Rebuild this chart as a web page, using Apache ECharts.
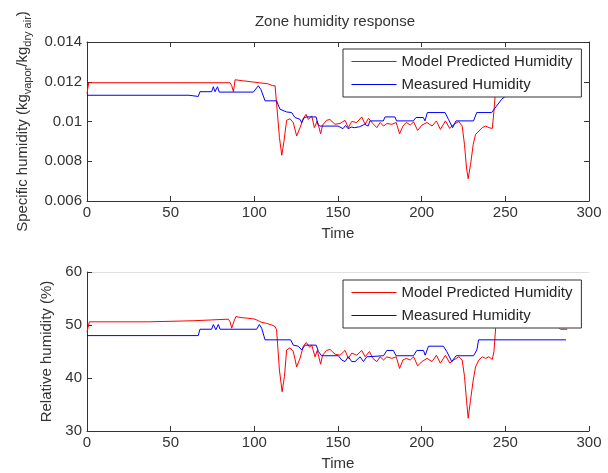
<!DOCTYPE html>
<html>
<head>
<meta charset="utf-8">
<script src="https://cdn.jsdelivr.net/npm/echarts@6/dist/echarts.min.js"></script>
<style>
  html, body { margin: 0; padding: 0; background: #fff; }
  #chart { width: 608px; height: 473px; }
</style>
</head>
<body>
<div id="chart"></div>
<script>
// top panel: specific humidity (kg vapor / kg dry air)
const specModelT = [0, 1, 85.5, 86.5, 87.5, 88.5, 93, 94, 103, 104, 108, 111, 112.4, 115, 116.4, 117.7, 119.3, 121.3, 123.3, 125.3,
  127.3, 129.3, 130.9, 132.3, 134.3, 135.9, 137.6, 139.6, 140.8, 143.2, 145.2, 148.2, 151.2, 154.2, 156.2, 158.2, 161.2, 164.2,
  166.2, 168.2, 170.8, 173.2, 175.2, 177.2, 179.2, 182.2, 184.8, 186.8, 188.8, 190.8, 193.2, 195.2, 197.6, 200.2, 203.2, 206.2,
  208.8, 211.2, 214.2, 216.8, 219.2, 222.2, 224.2, 225.6, 226.8, 227.8, 229.2, 230.8, 232.2, 234.2, 236.2, 238.2, 240.2, 242.2,
  243.2, 244.2, 245, 287];
const specModel = [0.0114, 0.01195, 0.01195, 0.0118, 0.0115, 0.0121, 0.01205, 0.01195, 0.01195, 0.0119, 0.0119, 0.0118, 0.0118,
  0.0092, 0.0083, 0.009, 0.01006, 0.01014, 0.00994, 0.00927, 0.00969, 0.01016, 0.01036, 0.0101, 0.01028, 0.00969, 0.01003,
  0.00938, 0.00982, 0.01006, 0.0101, 0.00986, 0.0099, 0.01006, 0.00969, 0.0100, 0.00995, 0.01023, 0.00986, 0.01016, 0.0099,
  0.00969, 0.00995, 0.00977, 0.0099, 0.00986, 0.00995, 0.00938, 0.00977, 0.00995, 0.00982, 0.00998, 0.00955, 0.00982, 0.00995,
  0.00977, 0.01003, 0.0096, 0.01003, 0.00965, 0.00986, 0.0100, 0.00977, 0.00884, 0.00766, 0.00712, 0.00783, 0.00884, 0.00935,
  0.00952, 0.00969, 0.00977, 0.00969, 0.00965, 0.01053, 0.0116, 0.0119, 0.0119];

const specMeasT = [0, 61, 61.5, 66.5, 67.5, 74.5, 75.5, 76.5, 78, 79, 99.4, 100.5, 102.4, 104, 106.4, 113.3, 115.3, 119.3, 122.3,
  124.3, 127.3, 128.3, 129.8, 131.3, 136.9, 138, 139.2, 150, 151, 153, 154.5, 156, 158, 160, 163, 166, 168, 169.1, 177.1, 178.1,
  184, 185, 195, 196.6, 201, 202, 203.4, 214, 216, 218.5, 220.5, 231, 232.9, 241.8, 242.8, 244.8, 247.8, 252, 258, 287];
const specMeas = [0.01132, 0.01132, 0.01126, 0.01126, 0.0115, 0.0115, 0.01175, 0.0115, 0.01175, 0.01148, 0.01148, 0.01155,
  0.0118, 0.0116, 0.01104, 0.01104, 0.01062, 0.01048, 0.01045, 0.0102, 0.01011, 0.00994, 0.0102, 0.01023, 0.01023, 0.00985,
  0.00977, 0.00977, 0.00969, 0.00964, 0.0098, 0.00964, 0.00972, 0.00969, 0.00974, 0.00986, 0.00977, 0.01003, 0.01003, 0.01023,
  0.01023, 0.01003, 0.01003, 0.0102, 0.0102, 0.01003, 0.01045, 0.01045, 0.01011, 0.00969, 0.01003, 0.01003, 0.01045, 0.01045,
  0.01053, 0.01078, 0.01112, 0.0114, 0.0117, 0.0118];

// bottom panel: relative humidity (%)
const relModelT = [0, 1.4, 36.7, 37, 63.5, 64, 84.5, 85.5, 86.5, 87.7, 89, 92, 95.4, 100.4, 102.4, 104.4, 107.4, 110.4, 112.4,
  113.3, 115, 116.6, 118, 119.3, 121.3, 123.3, 125.3, 127.3, 129.3, 131, 133, 134.3, 136.3, 137.6, 139.6, 140.8, 143.2, 145.2,
  148.2, 151.2, 154.2, 156.2, 158.2, 161.2, 164.2, 166.2, 168.8, 170.8, 173.2, 175.2, 177.2, 179.2, 182.2, 184.8, 186.8, 188.8,
  190.8, 193.2, 195.2, 197.6, 200.2, 203.2, 206.2, 208.8, 211.2, 214.2, 216.8, 219.2, 222.2, 224.2, 225.6, 226.8, 227.8, 229.2,
  230.8, 232.2, 234.2, 236.2, 238.2, 240.2, 242.2, 243.2, 244.2, 245, 260, 275, 281, 283, 287];
const relModel = [48.7, 50.6, 50.6, 50.8, 50.8, 51.1, 51.1, 50.6, 49.4, 50.6, 51.6, 51.4, 51.3, 51.1, 50.8, 50.5, 50.3, 50.0,
  49.7, 49.1, 41.5, 37.4, 40.3, 45.3, 45.7, 45.0, 42.1, 43.7, 46.0, 46.7, 45.8, 46.2, 44.0, 45.2, 42.6, 44.3, 45.2, 45.4, 44.5,
  44.3, 45.2, 43.7, 44.7, 44.3, 45.2, 44.0, 45.0, 43.7, 43.1, 44.0, 43.4, 44.0, 43.7, 44.0, 41.8, 43.4, 43.7, 43.4, 44.0, 42.3,
  43.1, 43.7, 43.1, 44.3, 42.8, 44.3, 42.8, 43.4, 44.0, 43.4, 40.3, 35.8, 32.4, 35.8, 39.6, 42.1, 43.4, 44.0, 43.7, 44.0, 43.5,
  45.0, 49.4, 51, 50.6, 50.2, 49.8, 49.2, 49.2];

const relMeasT = [0, 66.5, 67.5, 74.5, 75.5, 77, 78.5, 79.5, 101.4, 103, 104.4, 106.4, 121.7, 123.3, 126.3, 128.3, 130.3, 137,
  138.3, 140.2, 150.2, 152.2, 154.2, 156.2, 158.2, 160.2, 163.2, 165.2, 167.2, 168, 177.2, 179.2, 183.1, 184.7, 195.1, 197.1,
  201.1, 202.1, 204.1, 213, 215, 218, 220.6, 231, 233, 234, 286.3];
const relMeas = [48.0, 48.0, 49.2, 49.2, 50.1, 49.1, 50.1, 49.2, 49.2, 50.1, 49.4, 47.2, 47.2, 46.2, 46.0, 45.3, 46.2, 46.2,
  45.0, 44.2, 44.2, 43.4, 43.1, 44.0, 43.1, 43.1, 44.0, 43.1, 44.0, 44.2, 44.2, 45.2, 45.2, 44.2, 44.2, 45.2, 45.2, 44.3, 46.0,
  46.0, 45.0, 43.1, 44.2, 44.2, 45.3, 47.2, 47.2];

const modelName = 'Model Predicted Humidity';
const measName = 'Measured Humidity';
const modelColor = '#ff0000';
const measColor = '#0000ff';

function zip(t, v) {
  return t.map(function (x, i) { return [x, v[i]]; });
}

const ink = '#333';
const font = 'Arial, "Liberation Sans", sans-serif';

function bottomX(gi) {
  return {
    type: 'value', gridIndex: gi, min: 0, max: 300, interval: 50,
    name: 'Time', nameLocation: 'middle', nameGap: 25,
    nameTextStyle: { fontSize: 15, color: ink, fontFamily: font },
    axisLine: { show: true, onZero: false, lineStyle: { color: ink, width: 1 } },
    axisTick: { show: true, inside: true, length: 5, lineStyle: { color: ink } },
    axisLabel: { fontSize: 15, color: ink, margin: 4, fontFamily: font },
    splitLine: { show: false }
  };
}

function topX(gi, lineColor, ticks) {
  return {
    type: 'value', gridIndex: gi, position: 'top', min: 0, max: 300, interval: 50,
    axisLine: { show: true, onZero: false, lineStyle: { color: lineColor, width: 1 } },
    axisTick: { show: ticks, inside: true, length: 5, lineStyle: { color: ink } },
    axisLabel: { show: false },
    splitLine: { show: false }
  };
}

function line(name, xi, data, color) {
  return {
    type: 'line', name: name, xAxisIndex: xi, yAxisIndex: xi < 2 ? 0 : 2,
    data: data, symbol: 'none', showSymbol: false,
    lineStyle: { color: color, width: 1 }, itemStyle: { color: color }
  };
}

// legend keeps the series' own line icon; its round marker is made invisible
function legendAt(top) {
  return {
    data: [modelName, measName],
    orient: 'vertical', left: 343, top: top,
    padding: [5, 9, 5, 8], itemGap: 8, itemWidth: 45, itemHeight: 15,
    itemStyle: { opacity: 0 },
    lineStyle: { width: 1 },
    borderColor: ink, borderWidth: 1, borderRadius: 0, backgroundColor: '#fff',
    selectedMode: false,
    textStyle: { fontSize: 15, color: '#262626', fontFamily: font }
  };
}

const chart = echarts.init(document.getElementById('chart'), null, { renderer: 'canvas' });

chart.setOption({
  animation: false,
  backgroundColor: '#fff',
  title: {
    text: 'Zone humidity response', left: 335, top: 14, textAlign: 'center', padding: 0,
    textStyle: { fontSize: 15, fontWeight: 'normal', color: ink, fontFamily: font }
  },
  legend: [legendAt(49), legendAt(280)],
  grid: [
    { left: 87, top: 42, width: 502, height: 159, containLabel: false, outerBoundsMode: 'none' },
    { left: 87, top: 272, width: 502, height: 159, containLabel: false, outerBoundsMode: 'none' }
  ],
  xAxis: [bottomX(0), topX(0, ink, true), bottomX(1), topX(1, '#e0e0e0', false)],
  yAxis: [
    {
      type: 'value', gridIndex: 0, min: 0.006, max: 0.014, interval: 0.002,
      name: 'Specific humidity (kg{s|vapor}/kg{s|dry air})', nameLocation: 'middle', nameGap: 50,
      nameTextStyle: {
        fontSize: 15, color: ink, fontFamily: font, lineHeight: 22,
        rich: { s: { fontSize: 11, color: ink, fontFamily: font, lineHeight: 22, verticalAlign: 'bottom' } }
      },
      axisLine: { show: true, onZero: false, lineStyle: { color: ink, width: 1 } },
      axisTick: { show: true, inside: true, length: 5, lineStyle: { color: ink } },
      axisLabel: {
        fontSize: 15, color: ink, margin: 5, fontFamily: font,
        formatter: function (v) { return String(+v.toFixed(3)); }
      },
      splitLine: { show: false }
    },
    {
      type: 'value', gridIndex: 0, position: 'right', min: 0.006, max: 0.014, interval: 0.002,
      axisLine: { show: true, onZero: false, lineStyle: { color: ink, width: 1 } },
      axisTick: { show: true, inside: true, length: 5, lineStyle: { color: ink } },
      axisLabel: { show: false },
      splitLine: { show: false }
    },
    {
      type: 'value', gridIndex: 1, min: 30, max: 60, interval: 10,
      name: 'Relative humidity (%)', nameLocation: 'middle', nameGap: 31,
      nameTextStyle: { fontSize: 15, color: ink, fontFamily: font },
      axisLine: { show: true, onZero: false, lineStyle: { color: ink, width: 1 } },
      axisTick: { show: true, inside: true, length: 5, lineStyle: { color: ink } },
      axisLabel: { fontSize: 15, color: ink, margin: 5, fontFamily: font },
      splitLine: { show: false }
    }
  ],
  series: [
    line(modelName, 0, zip(specModelT, specModel), modelColor),
    line(measName, 0, zip(specMeasT, specMeas), measColor),
    line(modelName, 2, zip(relModelT, relModel), modelColor),
    line(measName, 2, zip(relMeasT, relMeas), measColor)
  ]
});
</script>
</body>
</html>
